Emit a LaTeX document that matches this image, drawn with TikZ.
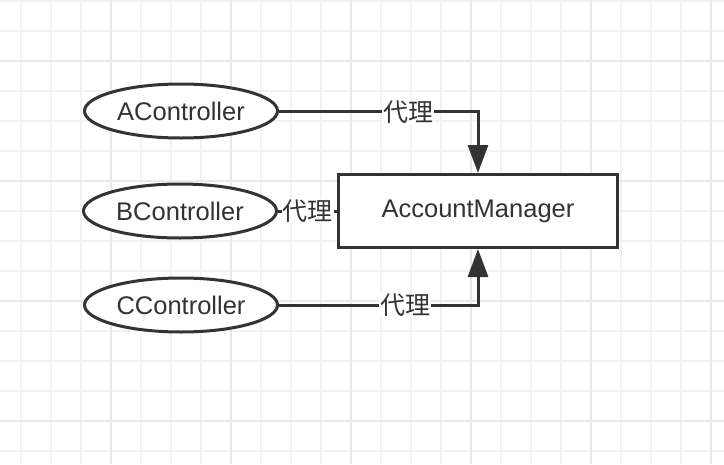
\documentclass[tikz,border=0pt]{standalone}
\usepackage{fontspec}
\setmainfont{Liberation Sans}
\newfontfamily\cjk{Noto Sans CJK SC}
\usetikzlibrary{arrows.meta,shapes.geometric}
\definecolor{ink}{HTML}{333333}
\definecolor{gridminor}{HTML}{F2F2F2}
\definecolor{gridmajor}{HTML}{E8E8E8}
\begin{document}
\begin{tikzpicture}[x=1pt,y=-1pt,
  ctrl/.style={ellipse,draw=ink,line width=3pt,fill=white,inner sep=0pt,
    minimum width=193pt,minimum height=54pt,text=ink,font=\fontsize{25.5}{28}\selectfont},
  mgr/.style={rectangle,draw=ink,line width=3pt,fill=white,inner sep=0pt,
    minimum width=279pt,minimum height=73pt,text=ink,font=\fontsize{25.5}{28}\selectfont},
  link/.style={draw=ink,line width=3pt},
  linkarrow/.style={link,-{Triangle[length=28pt,width=20pt]}},
  lbl/.style={fill=white,inner sep=1pt,text=ink,font=\cjk\fontsize{25}{27}\selectfont}]
\useasboundingbox (0,0) rectangle (724,464);
\fill[white] (0,0) rectangle (724,464);
\foreach \k in {0,...,23} {\draw[gridminor,line width=1.5pt] ({21+30*\k},0) -- ({21+30*\k},464);}
\foreach \k in {0,...,15} {\draw[gridminor,line width=1.5pt] (0,{1+30*\k}) -- (724,{1+30*\k});}
\foreach \k in {0,...,5} {\draw[gridmajor,line width=1.8pt] ({111+120*\k},0) -- ({111+120*\k},464);}
\foreach \k in {0,...,3} {\draw[gridmajor,line width=1.8pt] (0,{61+120*\k}) -- (724,{61+120*\k});}

\node[ctrl] (a) at (181,111) {AController};
\node[ctrl] (b) at (180,211) {BController};
\node[ctrl] (c) at (181,305) {CController};
\node[mgr] (m) at (478,211) {AccountManager};

\draw[linkarrow] (a.east) -- (m.north |- a.east) node[lbl,pos=0.65,yshift=-1pt] {代理} -- (m.north);
\draw[linkarrow] (c.east) -- (m.south |- c.east) node[lbl,pos=0.635] {代理} -- (m.south);
\draw[link] (b.east) -- (m.west) node[lbl,pos=0.5] {代理};
\end{tikzpicture}
\end{document}
